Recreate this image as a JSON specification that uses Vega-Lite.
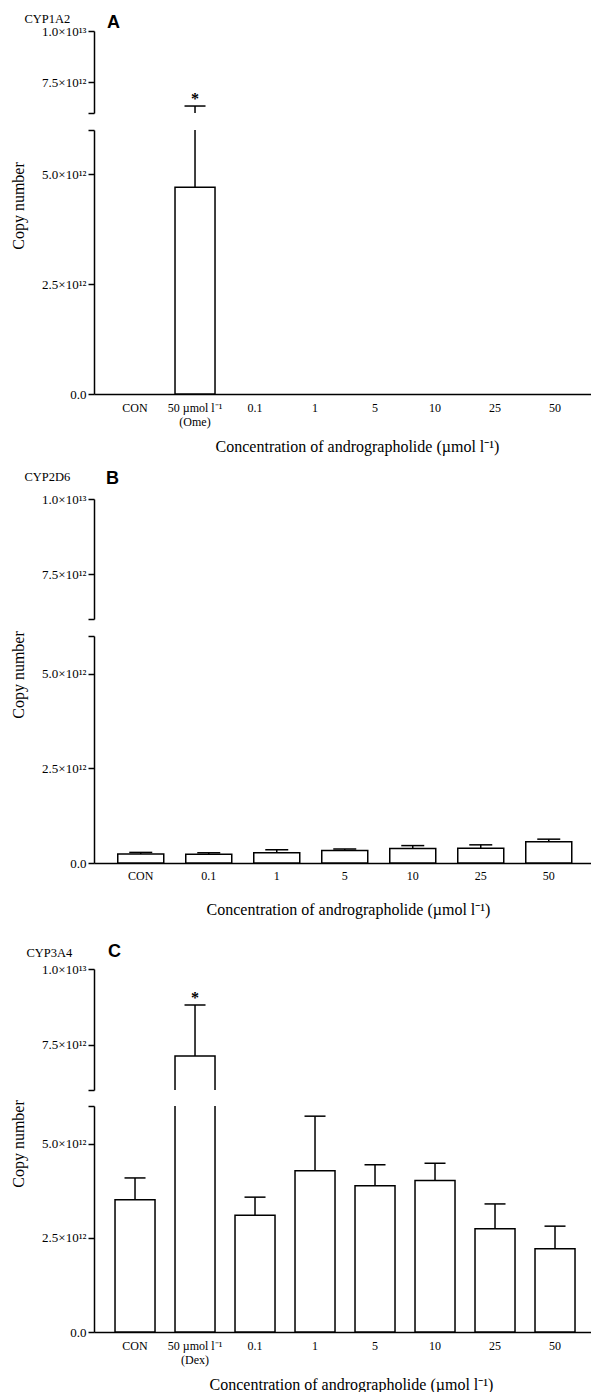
{
  "$schema": "https://vega.github.io/schema/vega-lite/v6.json",
  "padding": {"left": 9, "top": 12, "right": 0, "bottom": 0},
  "autosize": {"type": "pad"},
  "config": {
    "view": {"stroke": null},
    "font": "Liberation Serif",
    "axis": {"grid": false, "domainColor": "black", "domainWidth": 1.5, "tickColor": "black", "tickWidth": 1.5, "labelColor": "black", "titleColor": "black", "labelFont": "Liberation Serif", "titleFont": "Liberation Serif", "titleFontWeight": "normal", "labelOverlap": false, "labelFlush": false}
  },
  "datasets": {
    "cyp1a2": [
      {"dose": "50 µmol l⁻¹ (Ome)", "mean": 4.70e12, "upper": 6.34e12, "sig": "*"}
    ],
    "cyp2d6": [
      {"dose": "CON", "mean": 0.24e12, "upper": 0.28e12, "sig": ""},
      {"dose": "0.1", "mean": 0.23e12, "upper": 0.27e12, "sig": ""},
      {"dose": "1", "mean": 0.27e12, "upper": 0.35e12, "sig": ""},
      {"dose": "5", "mean": 0.33e12, "upper": 0.37e12, "sig": ""},
      {"dose": "10", "mean": 0.38e12, "upper": 0.46e12, "sig": ""},
      {"dose": "25", "mean": 0.39e12, "upper": 0.48e12, "sig": ""},
      {"dose": "50", "mean": 0.56e12, "upper": 0.63e12, "sig": ""}
    ],
    "cyp3a4": [
      {"dose": "CON", "mean": 3.51e12, "upper": 4.09e12, "sig": ""},
      {"dose": "50 µmol l⁻¹ (Dex)", "mean": 7.12e12, "upper": 8.81e12, "sig": "*"},
      {"dose": "0.1", "mean": 3.10e12, "upper": 3.58e12, "sig": ""},
      {"dose": "1", "mean": 4.28e12, "upper": 5.73e12, "sig": ""},
      {"dose": "5", "mean": 3.88e12, "upper": 4.44e12, "sig": ""},
      {"dose": "10", "mean": 4.02e12, "upper": 4.48e12, "sig": ""},
      {"dose": "25", "mean": 2.74e12, "upper": 3.40e12, "sig": ""},
      {"dose": "50", "mean": 2.21e12, "upper": 2.81e12, "sig": ""}
    ]
  },
  "spacing": 15,
  "vconcat": [
    {
      "bounds": "flush",
      "spacing": 17,
      "vconcat": [
        {
          "width": 498,
          "height": 82,
          "data": {"name": "cyp1a2"},
          "title": {"text": "A", "anchor": "start", "frame": "group", "font": "Liberation Sans", "fontSize": 18, "fontWeight": "bold", "color": "black", "dx": 13, "dy": 34, "offset": 0, "baseline": "alphabetic"},
          "encoding": {
            "x": {"field": "dose", "type": "nominal", "axis": null,
                  "scale": {"domain": ["CON", "50 µmol l⁻¹ (Ome)", "0.1", "1", "5", "10", "25", "50"], "paddingInner": 0.3333, "paddingOuter": 0.3167, "align": 0.553}}
          },
          "layer": [
            {
              "mark": {"type": "bar", "fill": "white", "stroke": "black", "strokeWidth": 1.5, "clip": true},
              "encoding": {
                "y": {"field": "mean", "type": "quantitative",
                      "scale": {"domain": [6e12, 1e13], "zero": false, "nice": false},
                      "axis": {"values": [6e12, 7.5e12, 1e13],
                               "labelExpr": "datum.value == 1e13 ? '1.0×10¹³' : datum.value == 7.5e12 ? '7.5×10¹²' : ''",
                               "labelFontSize": 13, "labelPadding": 2, "tickSize": 6,
                               "title": "CYP1A2", "titleAngle": 0, "titleX": -70, "titleY": -13, "titleAlign": "left", "titleBaseline": "middle", "titleFontSize": 12.5,
                               "encode": {"ticks": {"update": {"x": [{"test": "datum.value == 6e12", "value": 5}, {"value": 0}], "x2": [{"test": "datum.value == 6e12", "value": -4}, {"value": -6}]}}}}},
                "y2": {"datum": 0}
              }
            },
            {
              "mark": {"type": "rule", "color": "black", "strokeWidth": 1.5, "clip": true},
              "encoding": {
                "y": {"field": "mean", "type": "quantitative", "scale": {"domain": [6e12, 1e13], "zero": false, "nice": false}},
                "y2": {"field": "upper"}
              }
            },
            {
              "mark": {"type": "tick", "color": "black", "opacity": 1, "size": 21, "thickness": 1.5, "orient": "horizontal", "clip": true},
              "encoding": {
                "y": {"field": "upper", "type": "quantitative", "scale": {"domain": [6e12, 1e13], "zero": false, "nice": false}}
              }
            },
            {
              "mark": {"type": "text", "font": "Liberation Serif", "fontSize": 16, "fontWeight": "bold", "color": "black", "baseline": "alphabetic", "dy": -2, "clip": true},
              "encoding": {
                "y": {"field": "upper", "type": "quantitative", "scale": {"domain": [6e12, 1e13], "zero": false, "nice": false}},
                "text": {"field": "sig"}
              }
            }
          ]
        },
        {
          "width": 498,
          "height": 264,
          "data": {"name": "cyp1a2"},
          "encoding": {
            "x": {"field": "dose", "type": "nominal",
                  "scale": {"domain": ["CON", "50 µmol l⁻¹ (Ome)", "0.1", "1", "5", "10", "25", "50"], "paddingInner": 0.3333, "paddingOuter": 0.3167, "align": 0.553},
                  "axis": {"ticks": false, "labelAngle": 0, "labelFontSize": 12, "labelPadding": 8, "labelLineHeight": 14, "labelBaseline": "top",
                           "labelExpr": "datum.value == '50 µmol l⁻¹ (Ome)' ? ['50 µmol l⁻¹', '(Ome)'] : datum.label",
                           "title": "Concentration of andrographolide (µmol l⁻¹)", "titleFontSize": 16, "titleX": 263, "titleY": 52.5, "titleAlign": "center", "titleBaseline": "middle"}}
          },
          "layer": [
            {
              "mark": {"type": "bar", "fill": "white", "stroke": "black", "strokeWidth": 1.5, "clip": true},
              "encoding": {
                "y": {"field": "mean", "type": "quantitative",
                      "scale": {"domain": [0, 6e12], "nice": false},
                      "axis": {"values": [0, 2.5e12, 5e12, 6e12],
                               "labelExpr": "datum.value == 0 ? '0.0' : datum.value == 2.5e12 ? '2.5×10¹²' : datum.value == 5e12 ? '5.0×10¹²' : ''",
                               "labelFontSize": 13, "labelPadding": 2, "tickSize": 6,
                               "title": "Copy number", "titleFontSize": 16, "titleAngle": -90, "titleX": -76, "titleY": 75.5, "titleAlign": "center", "titleBaseline": "middle",
                               "encode": {"ticks": {"update": {"x": [{"test": "datum.value == 6e12", "value": 5}, {"value": 0}], "x2": [{"test": "datum.value == 6e12", "value": -4}, {"value": -6}]}}}}},
                "y2": {"datum": 0}
              }
            },
            {
              "mark": {"type": "rule", "color": "black", "strokeWidth": 1.5, "clip": true},
              "encoding": {
                "y": {"field": "mean", "type": "quantitative", "scale": {"domain": [0, 6e12], "nice": false}},
                "y2": {"field": "upper"}
              }
            },
            {
              "mark": {"type": "tick", "color": "black", "opacity": 1, "size": 21, "thickness": 1.5, "orient": "horizontal", "clip": true},
              "encoding": {
                "y": {"field": "upper", "type": "quantitative", "scale": {"domain": [0, 6e12], "nice": false}}
              }
            }
          ]
        }
      ]
    },
    {
      "spacing": 26,
      "vconcat": [
        {
          "bounds": "flush",
          "spacing": 17,
          "vconcat": [
            {
              "width": 498,
              "height": 120,
              "data": {"name": "cyp2d6"},
              "title": {"text": "B", "anchor": "start", "frame": "group", "font": "Liberation Sans", "fontSize": 18, "fontWeight": "bold", "color": "black", "dx": 12, "dy": 32, "offset": 0, "baseline": "alphabetic"},
              "encoding": {
                "x": {"field": "dose", "type": "nominal", "axis": null,
                      "scale": {"domain": ["CON", "0.1", "1", "5", "10", "25", "50"], "paddingInner": 0.3235, "paddingOuter": 0.3235, "align": 0.54}}
              },
              "layer": [
                {
                  "mark": {"type": "bar", "fill": "white", "stroke": "black", "strokeWidth": 1.5, "clip": true},
                  "encoding": {
                    "y": {"field": "mean", "type": "quantitative",
                          "scale": {"domain": [6e12, 1e13], "zero": false, "nice": false},
                          "axis": {"values": [6e12, 7.5e12, 1e13],
                                   "labelExpr": "datum.value == 1e13 ? '1.0×10¹³' : datum.value == 7.5e12 ? '7.5×10¹²' : ''",
                                   "labelFontSize": 13, "labelPadding": 2, "tickSize": 6,
                                   "title": "CYP2D6", "titleAngle": 0, "titleX": -70, "titleY": -23, "titleAlign": "left", "titleBaseline": "middle", "titleFontSize": 12.5,
                                   "encode": {"ticks": {"update": {"x": [{"test": "datum.value == 6e12", "value": 5}, {"value": 0}], "x2": [{"test": "datum.value == 6e12", "value": -4}, {"value": -6}]}}}}},
                    "y2": {"datum": 0}
                  }
                },
                {
                  "mark": {"type": "rule", "color": "black", "strokeWidth": 1.5, "clip": true},
                  "encoding": {
                    "y": {"field": "mean", "type": "quantitative", "scale": {"domain": [6e12, 1e13], "zero": false, "nice": false}},
                    "y2": {"field": "upper"}
                  }
                },
                {
                  "mark": {"type": "tick", "color": "black", "opacity": 1, "size": 23, "thickness": 1.5, "orient": "horizontal", "clip": true},
                  "encoding": {
                    "y": {"field": "upper", "type": "quantitative", "scale": {"domain": [6e12, 1e13], "zero": false, "nice": false}}
                  }
                }
              ]
            },
            {
              "width": 498,
              "height": 227,
              "data": {"name": "cyp2d6"},
              "encoding": {
                "x": {"field": "dose", "type": "nominal",
                      "scale": {"domain": ["CON", "0.1", "1", "5", "10", "25", "50"], "paddingInner": 0.3235, "paddingOuter": 0.3235, "align": 0.54},
                      "axis": {"ticks": false, "labelAngle": 0, "labelFontSize": 12, "labelPadding": 7, "labelBaseline": "top",
                               "title": "Concentration of andrographolide (µmol l⁻¹)", "titleFontSize": 16, "titleX": 254, "titleY": 46, "titleAlign": "center", "titleBaseline": "middle"}}
              },
              "layer": [
                {
                  "mark": {"type": "bar", "fill": "white", "stroke": "black", "strokeWidth": 1.5, "clip": true},
                  "encoding": {
                    "y": {"field": "mean", "type": "quantitative",
                          "scale": {"domain": [0, 6e12], "nice": false},
                          "axis": {"values": [0, 2.5e12, 5e12, 6e12],
                                   "labelExpr": "datum.value == 0 ? '0.0' : datum.value == 2.5e12 ? '2.5×10¹²' : datum.value == 5e12 ? '5.0×10¹²' : ''",
                                   "labelFontSize": 13, "labelPadding": 2, "tickSize": 6,
                                   "title": "Copy number", "titleFontSize": 16, "titleAngle": -90, "titleX": -76, "titleY": 38.5, "titleAlign": "center", "titleBaseline": "middle",
                                   "encode": {"ticks": {"update": {"x": [{"test": "datum.value == 6e12", "value": 5}, {"value": 0}], "x2": [{"test": "datum.value == 6e12", "value": -4}, {"value": -6}]}}}}},
                    "y2": {"datum": 0}
                  }
                },
                {
                  "mark": {"type": "rule", "color": "black", "strokeWidth": 1.5, "clip": true},
                  "encoding": {
                    "y": {"field": "mean", "type": "quantitative", "scale": {"domain": [0, 6e12], "nice": false}},
                    "y2": {"field": "upper"}
                  }
                },
                {
                  "mark": {"type": "tick", "color": "black", "opacity": 1, "size": 23, "thickness": 1.5, "orient": "horizontal", "clip": true},
                  "encoding": {
                    "y": {"field": "upper", "type": "quantitative", "scale": {"domain": [0, 6e12], "nice": false}}
                  }
                }
              ]
            }
          ]
        },
        {
          "bounds": "flush",
          "spacing": 16,
          "vconcat": [
            {
              "width": 498,
              "height": 121,
              "data": {"name": "cyp3a4"},
              "title": {"text": "C", "anchor": "start", "frame": "group", "font": "Liberation Sans", "fontSize": 18, "fontWeight": "bold", "color": "black", "dx": 14, "dy": 29, "offset": 0, "baseline": "alphabetic"},
              "encoding": {
                "x": {"field": "dose", "type": "nominal", "axis": null,
                      "scale": {"domain": ["CON", "50 µmol l⁻¹ (Dex)", "0.1", "1", "5", "10", "25", "50"], "paddingInner": 0.3333, "paddingOuter": 0.3167, "align": 0.553}}
              },
              "layer": [
                {
                  "mark": {"type": "bar", "fill": "white", "stroke": "black", "strokeWidth": 1.5, "clip": true},
                  "encoding": {
                    "y": {"field": "mean", "type": "quantitative",
                          "scale": {"domain": [6e12, 1e13], "zero": false, "nice": false},
                          "axis": {"values": [6e12, 7.5e12, 1e13],
                                   "labelExpr": "datum.value == 1e13 ? '1.0×10¹³' : datum.value == 7.5e12 ? '7.5×10¹²' : ''",
                                   "labelFontSize": 13, "labelPadding": 2, "tickSize": 6,
                                   "title": "CYP3A4", "titleAngle": 0, "titleX": -68, "titleY": -17, "titleAlign": "left", "titleBaseline": "middle", "titleFontSize": 12.5,
                                   "encode": {"ticks": {"update": {"x": [{"test": "datum.value == 6e12", "value": 5}, {"value": 0}], "x2": [{"test": "datum.value == 6e12", "value": -4}, {"value": -6}]}}}}},
                    "y2": {"datum": 0}
                  }
                },
                {
                  "mark": {"type": "rule", "color": "black", "strokeWidth": 1.5, "clip": true},
                  "encoding": {
                    "y": {"field": "mean", "type": "quantitative", "scale": {"domain": [6e12, 1e13], "zero": false, "nice": false}},
                    "y2": {"field": "upper"}
                  }
                },
                {
                  "mark": {"type": "tick", "color": "black", "opacity": 1, "size": 21, "thickness": 1.5, "orient": "horizontal", "clip": true},
                  "encoding": {
                    "y": {"field": "upper", "type": "quantitative", "scale": {"domain": [6e12, 1e13], "zero": false, "nice": false}}
                  }
                },
                {
                  "mark": {"type": "text", "font": "Liberation Serif", "fontSize": 16, "fontWeight": "bold", "color": "black", "baseline": "alphabetic", "dy": -2, "clip": true},
                  "encoding": {
                    "y": {"field": "upper", "type": "quantitative", "scale": {"domain": [6e12, 1e13], "zero": false, "nice": false}},
                    "text": {"field": "sig"}
                  }
                }
              ]
            },
            {
              "width": 498,
              "height": 226,
              "data": {"name": "cyp3a4"},
              "encoding": {
                "x": {"field": "dose", "type": "nominal",
                      "scale": {"domain": ["CON", "50 µmol l⁻¹ (Dex)", "0.1", "1", "5", "10", "25", "50"], "paddingInner": 0.3333, "paddingOuter": 0.3167, "align": 0.553},
                      "axis": {"ticks": false, "labelAngle": 0, "labelFontSize": 12, "labelPadding": 8, "labelLineHeight": 14, "labelBaseline": "top",
                               "labelExpr": "datum.value == '50 µmol l⁻¹ (Dex)' ? ['50 µmol l⁻¹', '(Dex)'] : datum.label",
                               "title": "Concentration of andrographolide (µmol l⁻¹)", "titleFontSize": 16, "titleX": 257, "titleY": 52, "titleAlign": "center", "titleBaseline": "middle"}}
              },
              "layer": [
                {
                  "mark": {"type": "bar", "fill": "white", "stroke": "black", "strokeWidth": 1.5, "clip": true},
                  "encoding": {
                    "y": {"field": "mean", "type": "quantitative",
                          "scale": {"domain": [0, 6e12], "nice": false},
                          "axis": {"values": [0, 2.5e12, 5e12, 6e12],
                                   "labelExpr": "datum.value == 0 ? '0.0' : datum.value == 2.5e12 ? '2.5×10¹²' : datum.value == 5e12 ? '5.0×10¹²' : ''",
                                   "labelFontSize": 13, "labelPadding": 2, "tickSize": 6,
                                   "title": "Copy number", "titleFontSize": 16, "titleAngle": -90, "titleX": -76, "titleY": 37.5, "titleAlign": "center", "titleBaseline": "middle",
                                   "encode": {"ticks": {"update": {"x": [{"test": "datum.value == 6e12", "value": 5}, {"value": 0}], "x2": [{"test": "datum.value == 6e12", "value": -4}, {"value": -6}]}}}}},
                    "y2": {"datum": 0}
                  }
                },
                {
                  "mark": {"type": "rule", "color": "black", "strokeWidth": 1.5, "clip": true},
                  "encoding": {
                    "y": {"field": "mean", "type": "quantitative", "scale": {"domain": [0, 6e12], "nice": false}},
                    "y2": {"field": "upper"}
                  }
                },
                {
                  "mark": {"type": "tick", "color": "black", "opacity": 1, "size": 21, "thickness": 1.5, "orient": "horizontal", "clip": true},
                  "encoding": {
                    "y": {"field": "upper", "type": "quantitative", "scale": {"domain": [0, 6e12], "nice": false}}
                  }
                }
              ]
            }
          ]
        }
      ]
    }
  ]
}
